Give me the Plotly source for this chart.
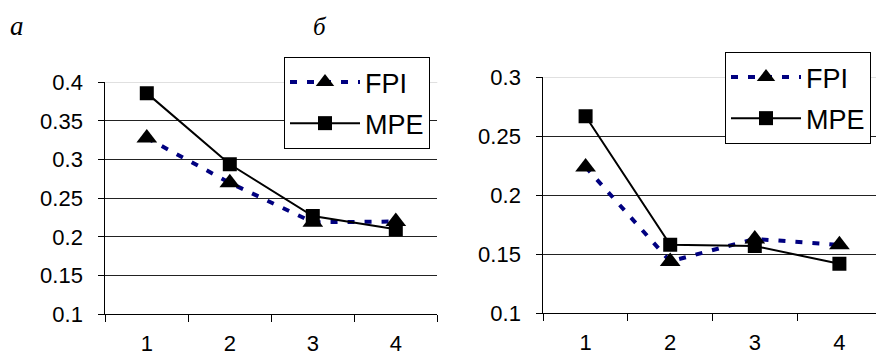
import plotly.graph_objects as go

categories = [1, 2, 3, 4]
tick_labels = ["1", "2", "3", "4"]

fpi_a = [0.328, 0.270, 0.219, 0.220]
mpe_a = [0.386, 0.294, 0.227, 0.210]

fpi_b = [0.224, 0.144, 0.163, 0.158]
mpe_b = [0.267, 0.158, 0.157, 0.142]

y_a_vals = [0.1, 0.15, 0.2, 0.25, 0.3, 0.35, 0.4]
y_a_text = ["0.1", "0.15", "0.2", "0.25", "0.3", "0.35", "0.4"]
y_b_vals = [0.1, 0.15, 0.2, 0.25, 0.3]
y_b_text = ["0.1", "0.15", "0.2", "0.25", "0.3"]

NAVY = "#000080"
FONT = "Liberation Sans, Arial, sans-serif"

fig = go.Figure()

def add_pair(fpi, mpe, xa, ya, legend):
    fig.add_trace(go.Scatter(
        x=categories, y=fpi, name="FPI", mode="lines+markers",
        line=dict(color=NAVY, width=4, dash="7px,10px"),
        marker=dict(symbol="triangle-up", size=18, color="black"),
        xaxis=xa, yaxis=ya, legend=legend, legendgroup=legend + "f"))
    fig.add_trace(go.Scatter(
        x=categories, y=mpe, name="MPE", mode="lines+markers",
        line=dict(color="black", width=2),
        marker=dict(symbol="square", size=14, color="black"),
        xaxis=xa, yaxis=ya, legend=legend, legendgroup=legend + "m"))

add_pair(fpi_a, mpe_a, "x", "y", "legend")
add_pair(fpi_b, mpe_b, "x2", "y2", "legend2")

W, H = 876, 356

def xaxis(domain, rng):
    return dict(
        domain=domain, range=rng, tickmode="array", tickvals=categories,
        ticktext=tick_labels, ticks="", showgrid=False, zeroline=False,
        showline=True, linecolor="black", linewidth=1,
        tickfont=dict(family=FONT, size=22, color="black"),
        ticklabelstandoff=9,
        minor=dict(tickmode="linear", tick0=0.5, dtick=1, ticks="outside",
                   ticklen=7, tickcolor="black", showgrid=False),
        fixedrange=True)

def yaxis(domain, rng, vals, text, anchor):
    return dict(
        domain=domain, range=rng, tickmode="array", tickvals=vals,
        ticktext=text, ticks="outside", ticklen=6, tickcolor="black",
        showgrid=True, gridcolor="#222222", gridwidth=1, zeroline=False,
        showline=True, linecolor="black", linewidth=1, anchor=anchor,
        tickfont=dict(family=FONT, size=22, color="black"),
        ticklabelstandoff=11, fixedrange=True)

legend_style = dict(xanchor="left", yanchor="top",
                    bgcolor="white", bordercolor="black", borderwidth=1,
                    font=dict(family=FONT, size=27, color="black"),
                    itemwidth=70, tracegroupgap=3)

fig.update_layout(
    width=W, height=H,
    margin=dict(l=0, r=0, t=0, b=0, autoexpand=False),
    paper_bgcolor="white", plot_bgcolor="white",
    xaxis=xaxis([105.3 / W, 437.3 / W], [0.5, 4.5]),
    yaxis=yaxis([1 - 314.3 / H, 1 - 82.3 / H], [0.1, 0.4], y_a_vals, y_a_text, "x"),
    xaxis2=dict(xaxis([543.3 / W, 1.0], [0.5, 0.5 + 332.7 / 84.6]), anchor="y2"),
    yaxis2=yaxis([1 - 313.3 / H, 1 - 77.3 / H], [0.1, 0.3], y_b_vals, y_b_text, "x2"),
    legend=dict(x=284 / W, y=1 - 57 / H, **legend_style),
    legend2=dict(x=725 / W, y=1 - 52 / H, **legend_style),
    showlegend=True,
    shapes=[
        dict(type="line", xref="x domain", yref="y", x0=0, x1=1, y0=0.4, y1=0.4,
             line=dict(color="#cccccc", width=1), layer="below"),
        dict(type="line", xref="x2 domain", yref="y2", x0=0, x1=1, y0=0.3, y1=0.3,
             line=dict(color="#cccccc", width=1), layer="below"),
    ],
    annotations=[
        dict(text="а", x=8 / W, y=1 - 9 / H, xref="paper", yref="paper",
             xanchor="left", yanchor="top", showarrow=False,
             font=dict(family="Liberation Serif, Times New Roman, serif", size=27,
                       color="black", style="italic")),
        dict(text="б", x=311 / W, y=1 - 11 / H, xref="paper", yref="paper",
             xanchor="left", yanchor="top", showarrow=False,
             font=dict(family="Liberation Serif, Times New Roman, serif", size=25,
                       color="black", style="italic")),
    ],
)

fig.write_html("out.html", config={"displayModeBar": False},
               post_script="document.body.style.margin='0';")
